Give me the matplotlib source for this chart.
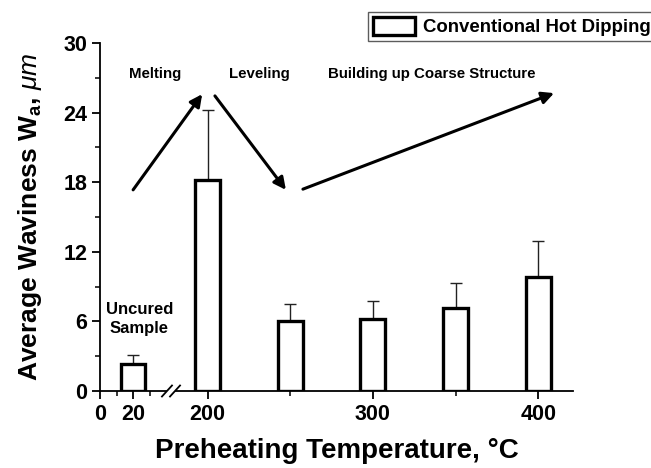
import matplotlib
matplotlib.use("Agg")
import matplotlib.pyplot as plt
import numpy as np
from matplotlib.patches import FancyArrowPatch
from matplotlib.lines import Line2D

plt.rcParams['font.family'] = ['Liberation Sans', 'DejaVu Sans']
plt.rcParams['mathtext.fontset'] = 'custom'
plt.rcParams['mathtext.it'] = 'Liberation Sans:italic'
plt.rcParams['mathtext.rm'] = 'Liberation Sans:bold'

# Data
temperatures = [20, 200, 250, 300, 350, 400]
waviness = [2.3, 18.2, 6.0, 6.2, 7.15, 9.8]
waviness_err = [0.8, 6.0, 1.5, 1.6, 2.15, 3.1]
xtick_values = [0, 20, 200, 300, 400]
xminor_values = [10, 30, 250, 350]
series_label = "Conventional Hot Dipping"

# Broken x axis: values above the break are shifted left by GAP
GAP = 135
BREAK_AT = 100


def xmap(v):
    v = np.asarray(v, dtype=float)
    return np.where(v < BREAK_AT, v, v - GAP)


fig = plt.figure(figsize=(6.51, 4.68), dpi=100)
ax = fig.add_axes([100 / 651, 1 - 391 / 468, 473 / 651, 348 / 468])

ax.bar(xmap(temperatures), waviness, width=15, facecolor='white',
       edgecolor='black', linewidth=2.4, zorder=2, label=series_label)
ax.errorbar(xmap(temperatures), waviness,
            yerr=[np.zeros(len(waviness)), waviness_err],
            fmt='none', ecolor='#222222', elinewidth=1.0, capsize=4,
            capthick=1.0, zorder=1)

ax.set_xlim(0, 286)
ax.set_ylim(0, 30)
ax.set_xticks(xmap(xtick_values))
ax.set_xticklabels([str(v) for v in xtick_values])
ax.set_xticks(xmap(xminor_values), minor=True)
ax.set_yticks(np.arange(0, 31, 6))
ax.set_yticks(np.arange(3, 30, 6), minor=True)

for s in ['top', 'right']:
    ax.spines[s].set_visible(False)
for s in ['left', 'bottom']:
    ax.spines[s].set_linewidth(1.3)

ax.tick_params(axis='both', which='major', direction='out', length=6,
               width=1.3, labelsize=15.5, pad=3)
ax.tick_params(axis='both', which='minor', direction='out', length=3.5,
               width=1.1)
for lab in ax.get_xticklabels() + ax.get_yticklabels():
    lab.set_fontweight('bold')

ax.set_xlabel("Preheating Temperature, °C", fontsize=20, fontweight='bold',
              labelpad=10)
ax.set_ylabel(r"Average Waviness W$_{\mathrm{a}}$, $\mathit{\mu m}$",
              fontsize=19, fontweight='bold', labelpad=14)

# Axis break marks
for xc in (0.1416, 0.1586):
    ax.add_line(Line2D([xc - 0.0106, xc + 0.0106], [-0.0158, 0.0158],
                       transform=ax.transAxes, color='black', lw=1.3,
                       clip_on=False, zorder=5))
ax.add_line(Line2D([0.1450, 0.1552], [0, 0], transform=ax.transAxes,
                   color='white', lw=3, clip_on=False, zorder=4))

# Process stage labels
txt = dict(fontsize=10.8, fontweight='bold', ha='center', va='center',
           transform=ax.transAxes)
ax.text(0.116, 0.911, "Melting", **txt)
ax.text(0.338, 0.911, "Leveling", **txt)
ax.text(0.702, 0.911, "Building up Coarse Structure", **txt)
ax.text(0.083, 0.208, "Uncured\nSample", fontsize=12, fontweight='bold',
        ha='center', va='center', linespacing=1.35, transform=ax.transAxes)

arrows = [((0.070, 0.578), (0.216, 0.853)),
          ((0.243, 0.848), (0.393, 0.578)),
          ((0.429, 0.580), (0.960, 0.856))]
for start, end in arrows:
    ax.add_patch(FancyArrowPatch(start, end, transform=ax.transAxes,
                                 arrowstyle='-|>', mutation_scale=18,
                                 linewidth=2.2, color='black',
                                 shrinkA=0, shrinkB=0, clip_on=False))

leg = ax.legend(loc='upper left', bbox_to_anchor=(368 / 651, 1 - 12 / 468),
                bbox_transform=fig.transFigure, frameon=True, fancybox=False,
                fontsize=13.4, handlelength=2.3, handleheight=1.1,
                handletextpad=0.4, borderpad=0.25, borderaxespad=0)
leg.get_frame().set_edgecolor('#333333')
leg.get_frame().set_linewidth(1.0)
for t in leg.get_texts():
    t.set_fontweight('bold')

fig.savefig("out.png", dpi=100)
